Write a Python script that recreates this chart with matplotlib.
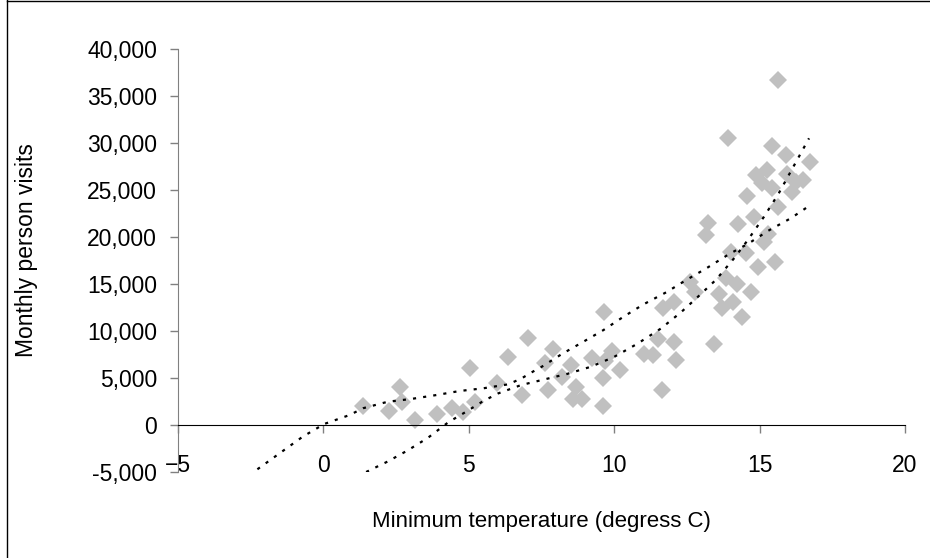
import matplotlib
matplotlib.use("Agg")
import matplotlib.pyplot as plt
from matplotlib.lines import Line2D
from matplotlib.ticker import FuncFormatter

plt.rcParams['font.family'] = ['Liberation Sans', 'DejaVu Sans']

# scatter data: minimum temperature (C) vs monthly person visits
temp = [1.36, 2.24, 2.62, 2.69, 3.14, 3.90, 4.41, 4.79, 5.03, 5.21,
        5.98, 6.36, 7.02, 6.83, 7.91, 7.62, 8.20, 7.73, 8.52, 8.67,
        8.60, 8.89, 9.63, 9.66, 9.23, 9.93, 9.69, 9.63, 10.21, 11.01,
        11.33, 11.50, 12.04, 12.12, 11.64, 11.67, 12.04, 12.62, 12.79, 13.42,
        13.62, 13.17, 13.83, 13.71, 14.00, 14.24, 14.72, 14.09, 14.40, 14.96,
        15.52, 14.53, 15.15, 15.29, 13.22, 14.25, 14.80, 15.63, 14.55, 15.44,
        16.13, 15.09, 14.86, 15.27, 15.95, 16.50, 15.91, 16.74, 15.44, 13.91,
        15.63, 16.24]
visits = [2070, 1540, 3990, 2450, 530, 1170, 1860, 1380, 6060, 2450,
          4470, 7230, 9280, 3140, 8090, 6600, 5110, 3720, 6380, 3990,
          2770, 2770, 2020, 12050, 7180, 7820, 6810, 5050, 5850, 7550,
          7450, 9100, 8860, 6910, 3720, 12450, 13120, 15160, 14200, 8620,
          13970, 20210, 15590, 12410, 18400, 15000, 14180, 13120, 11520, 16840,
          17370, 18270, 19500, 20320, 21460, 21380, 22180, 23240, 24360, 25180,
          24840, 25710, 26600, 27130, 26700, 26060, 28760, 27980, 29650, 30500,
          36700, 25850]

# trend line A (through origin, flatter at the top end)
trend_a_x = [-2.27, -0.71, 0.03, 0.90, 1.36, 2.22, 3.02, 3.89, 4.69, 5.49,
             6.36, 6.82, 7.20, 7.51, 8.20, 8.94, 9.63, 10.32, 11.01, 11.79,
             12.48, 13.17, 13.94, 14.63, 15.30, 16.07, 16.70]
trend_a_y = [-4710, -1240, 110, 1060, 1780, 2480, 2770, 3190, 3620, 3900,
             4330, 4970, 5670, 6200, 7550, 8860, 10100, 11520, 12840, 14120,
             15430, 16670, 18160, 19330, 20670, 21990, 23300]

# trend line B (steeper at the top end)
trend_b_x = [1.47, 2.2, 2.9, 3.6, 4.3, 4.9, 5.5, 6.0, 6.8, 7.6, 8.4, 9.2,
             10.0, 10.8, 11.6, 12.3, 12.9, 13.5, 14.1, 14.6, 15.15, 15.65,
             16.05, 16.7]
trend_b_y = [-5000, -3900, -2700, -1350, 300, 1400, 2550, 3350, 4250, 4850,
             5450, 6200, 7250, 8650, 10250, 12000, 13700, 15450, 17650, 19700,
             22150, 24600, 26850, 30500]

x_ticks = [-5, 0, 5, 10, 15, 20]
y_ticks = [-5000, 0, 5000, 10000, 15000, 20000, 25000, 30000, 35000, 40000]

W, H = 930, 558
fig = plt.figure(figsize=(W / 100, H / 100), dpi=100)
ax = fig.add_axes([178 / W, 1 - 472 / H, (905 - 178) / W, (472 - 49) / H])

ax.plot(temp, visits, 'D', color='#c0c0c0', ms=9, mew=0, zorder=2)
dots = (0, (1.4, 3.2))
ax.plot(trend_a_x, trend_a_y, color='black', lw=1.6, ls=dots, zorder=3)
ax.plot(trend_b_x, trend_b_y, color='black', lw=1.6, ls=dots, zorder=3)

ax.set_xlim(-5, 20)
ax.set_ylim(-5000, 40000)
ax.set_xticks(x_ticks)
ax.set_yticks(y_ticks)
ax.yaxis.set_major_formatter(FuncFormatter(lambda v, p: f"{v:,.0f}"))

for s in ['top', 'right']:
    ax.spines[s].set_visible(False)
ax.spines['bottom'].set_position(('data', 0))
ax.spines['bottom'].set_color('black')
ax.spines['left'].set_color('#808080')

ax.tick_params(axis='y', direction='out', length=6, width=1, color='#808080',
               labelsize=16.5, pad=9)
ax.tick_params(axis='x', direction='out', length=6, width=1, color='#808080',
               labelsize=16.5, pad=15)

fig.text(27 / W, 1 - 250 / H, 'Monthly person visits', rotation=90,
         ha='center', va='center', fontsize=16.5)
fig.text(541 / W, 1 - 521 / H, 'Minimum temperature (degress C)',
         ha='center', va='center', fontsize=16)

# chart area border (left and top visible)
fig.add_artist(Line2D([7 / W, 7 / W], [0, 1], transform=fig.transFigure,
                      color='black', lw=1))
fig.add_artist(Line2D([7 / W, 1], [1 - 1 / H, 1 - 1 / H],
                      transform=fig.transFigure, color='black', lw=1))

fig.savefig('out.png', dpi=100)
